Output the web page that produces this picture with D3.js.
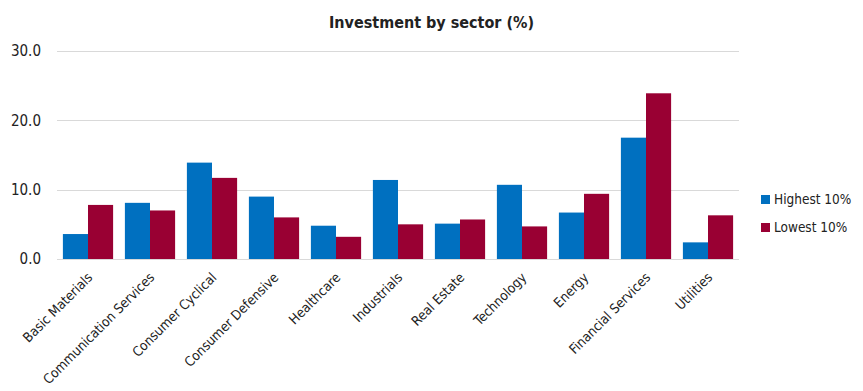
<!DOCTYPE html>
<html lang="en">
<head>
<style>
html, body {
    margin: 0;
    padding: 0;
    background: #fff;
}
svg text {
    font-family: "DejaVu Sans Condensed", "DejaVu Sans", sans-serif;
    font-stretch: condensed;
    fill: #222;
}
</style>
</head>
<body>
<div id="stage"></div>

<script src="https://cdn.jsdelivr.net/npm/d3@7/dist/d3.min.js"></script>
<script>

var sectors = ["Basic Materials", "Communication Services", "Consumer Cyclical", "Consumer Defensive",
    "Healthcare", "Industrials", "Real Estate", "Technology", "Energy", "Financial Services", "Utilities"]
var highest = [3.6, 8.1, 13.9, 9.0, 4.8, 11.4, 5.1, 10.7, 6.7, 17.5, 2.4]
var lowest  = [7.8, 7.0, 11.7, 6.0, 3.2, 5.0, 5.7, 4.7, 9.4, 23.9, 6.3]
var seriesNames = ["Highest 10%", "Lowest 10%"]
var yTicks = [0, 10, 20, 30]

var W = 863, H = 391
var margin = {top: 51, left: 57, right: 124, bottom: 132}
var colors = ["#0070c0", "#990033"]

var svg = d3.select("#stage").append("svg")
    .attr("width", W)
    .attr("height", H)

var x = d3.scaleBand()
    .domain(sectors)
    .range([margin.left, W - margin.right])
    .paddingInner(0.19)
    .paddingOuter(0.095)

var x1 = d3.scaleBand()
    .domain(seriesNames)
    .range([0, x.bandwidth()])

var y = d3.scaleLinear()
    .domain([0, 30])
    .range([H - margin.bottom, margin.top])

// grid
svg.append("g")
    .selectAll("line")
    .data(yTicks)
    .enter()
    .append("line")
    .attr("x1", margin.left)
    .attr("x2", W - margin.right)
    .attr("y1", function(d){ return Math.round(y(d)) + 0.5 })
    .attr("y2", function(d){ return Math.round(y(d)) + 0.5 })
    .attr("stroke", "#d9d9d9")
    .attr("stroke-width", 1)

// y labels
var yAxis = d3.axisLeft(y)
    .tickValues(yTicks)
    .tickSize(0)
    .tickPadding(16)
    .tickFormat(d3.format(".1f"))

svg.append("g")
    .attr("transform", "translate(" + margin.left + ",0)")
    .call(yAxis)
    .call(function(g){ g.select(".domain").remove() })
    .selectAll("text")
    .style("font-size", "15px")
    .attr("fill", "#222")

// bars
var rows = sectors.map(function(s, i){ return {sector: s, vals: [highest[i], lowest[i]]} })

var groups = svg.append("g")
    .selectAll("g")
    .data(rows)
    .enter()
    .append("g")
    .attr("transform", function(d){ return "translate(" + x(d.sector) + ",0)" })

groups.selectAll("rect")
    .data(function(d){ return d.vals.map(function(v, j){ return {name: seriesNames[j], value: v, j: j} }) })
    .enter()
    .append("rect")
    .attr("x", function(d){ return x1(d.name) })
    .attr("width", x1.bandwidth())
    .attr("y", function(d){ return y(d.value) })
    .attr("height", function(d){ return y(0) - y(d.value) })
    .attr("fill", function(d){ return colors[d.j] })

// x labels
var xAxis = d3.axisBottom(x)
    .tickSize(0)
    .tickPadding(0)

svg.append("g")
    .attr("transform", "translate(0," + (y(0) + 6) + ")")
    .call(xAxis)
    .call(function(g){ g.select(".domain").remove() })
    .selectAll("text")
    .style("font-size", "13.5px")
    .attr("fill", "#222")
    .attr("text-anchor", "end")
    .attr("dy", "0.35em")
    .attr("transform", "translate(2,10) rotate(-45)")

// title
svg.append("text")
    .attr("x", W / 2)
    .attr("y", 28)
    .attr("text-anchor", "middle")
    .style("font-size", "16px")
    .style("font-weight", "bold")
    .text("Investment by sector (%)")

// legend
var legend = svg.append("g")
    .selectAll("g")
    .data(seriesNames)
    .enter()
    .append("g")
    .attr("transform", function(d, i){ return "translate(761," + (199 + i * 28) + ")" })

legend.append("rect")
    .attr("x", 0)
    .attr("y", -4)
    .attr("width", 9)
    .attr("height", 9)
    .attr("fill", function(d, i){ return colors[i] })

legend.append("text")
    .attr("x", 13)
    .attr("y", 0)
    .attr("dy", "0.35em")
    .style("font-size", "13.5px")
    .text(function(d){ return d })

</script>
</body>
</html>
